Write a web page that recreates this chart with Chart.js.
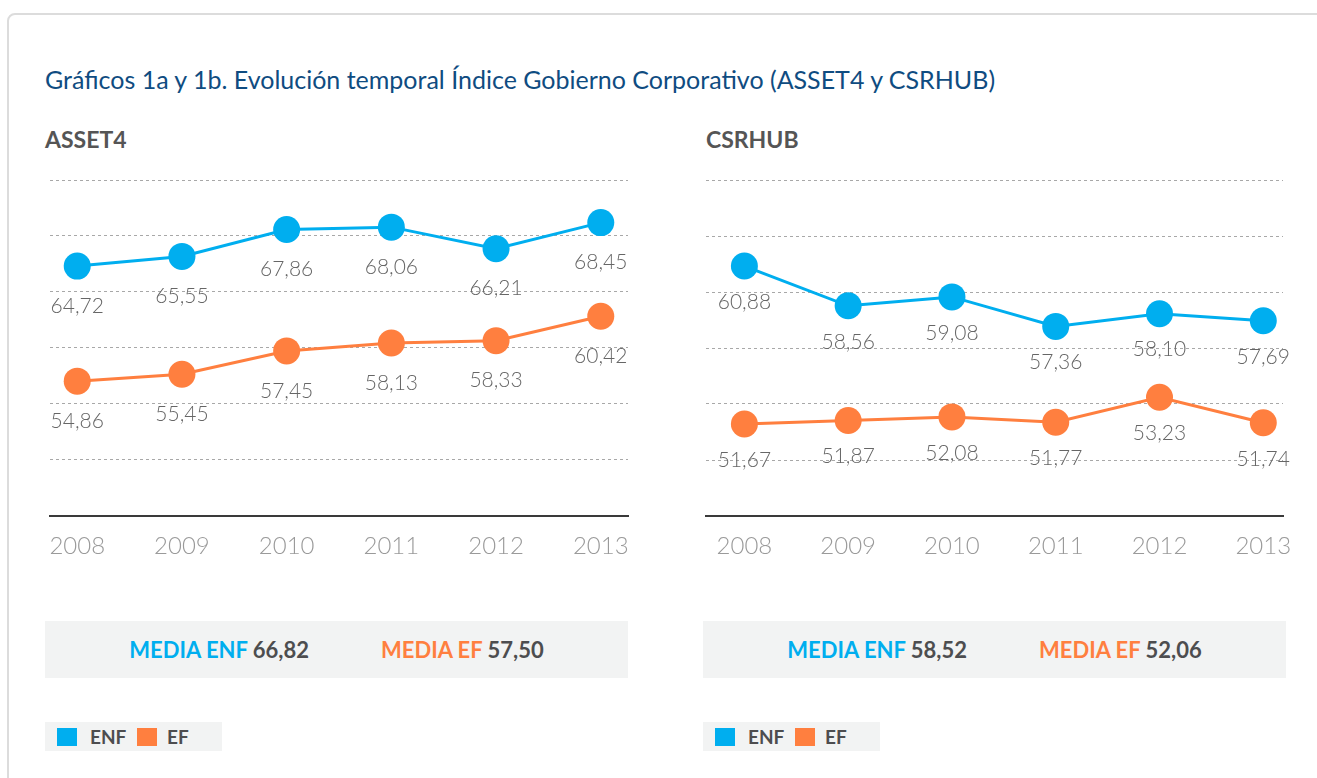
<!DOCTYPE html>
<html>
<head>
<meta charset="utf-8">
<script src="https://cdn.jsdelivr.net/npm/chart.js@4.4.0/dist/chart.umd.min.js"></script>
<style>
  html, body { margin: 0; padding: 0; background: #fff; overflow: hidden; }
  body { width: 1317px; height: 778px; position: relative; font-family: Lato, "Open Sans", sans-serif; }
  .card { position: absolute; left: 7px; top: 13px; width: 1340px; height: 800px; border: 2px solid #dcdcdc; border-radius: 8px; box-sizing: border-box; }
  .title { position: absolute; left: 45px; top: 64px; font-size: 25px; color: #0f4c81; white-space: nowrap; }
  .head { position: absolute; top: 125px; font-size: 23px; font-weight: 700; color: #555; }
  .wrap { position: absolute; top: 170px; width: 590px; height: 406px; }
  .summary { position: absolute; top: 621px; height: 57px; background: #f2f3f3; display: flex; align-items: center; justify-content: center; font-size: 22px; font-weight: 700; color: #4d4d4f; }
  .summary .gap { width: 72px; }
  .legend { position: absolute; top: 722px; width: 177px; height: 29px; background: #f2f3f3; font-size: 19px; font-weight: 700; color: #4d4d4f; }
  .legend span.sw { position: absolute; top: 6px; width: 20px; height: 18px; }
  .legend span.tx { position: absolute; top: 3px; }
</style>
</head>
<body>
<div class="card"></div>
<div class="title">Gráficos 1a y 1b. Evolución temporal Índice Gobierno Corporativo (ASSET4 y CSRHUB)</div>

<div class="head" style="left:45px">ASSET4</div>
<div class="head" style="left:706px">CSRHUB</div>

<div class="wrap" style="left:45px"><canvas id="chartAsset4"></canvas></div>
<div class="wrap" style="left:703px"><canvas id="chartCsrhub"></canvas></div>

<div class="summary" style="left:45px;width:583px">
  <span style="color:#00aeef">MEDIA ENF&nbsp;</span><span>66,82</span><span class="gap"></span>
  <span style="color:#ff7f3f">MEDIA EF&nbsp;</span><span>57,50</span>
</div>
<div class="summary" style="left:703px;width:583px">
  <span style="color:#00aeef">MEDIA ENF&nbsp;</span><span>58,52</span><span class="gap"></span>
  <span style="color:#ff7f3f">MEDIA EF&nbsp;</span><span>52,06</span>
</div>

<div class="legend" style="left:45px">
  <span class="sw" style="left:12px;background:#00aeef"></span><span class="tx" style="left:45px">ENF</span>
  <span class="sw" style="left:92px;background:#ff7f3f"></span><span class="tx" style="left:122px">EF</span>
</div>
<div class="legend" style="left:703px">
  <span class="sw" style="left:12px;background:#00aeef"></span><span class="tx" style="left:45px">ENF</span>
  <span class="sw" style="left:92px;background:#ff7f3f"></span><span class="tx" style="left:122px">EF</span>
</div>

<script>
// years on the x axis
var years = ['2008', '2009', '2010', '2011', '2012', '2013'];

// ASSET4 series
var asset4Enf = [64.72, 65.55, 67.86, 68.06, 66.21, 68.45];
var asset4Ef = [54.86, 55.45, 57.45, 58.13, 58.33, 60.42];

// CSRHUB series
var csrhubEnf = [60.88, 58.56, 59.08, 57.36, 58.10, 57.69];
var csrhubEf = [51.67, 51.87, 52.08, 51.77, 53.23, 51.74];

var BLUE = '#00aeef';
var ORANGE = '#ff7f3f';

function toPoints(values) {
    return values.map(function(v, i) { return { x: i, y: v }; });
}

function fmt(v) {
    return v.toFixed(2).replace('.', ',');
}

function noPadding(scale) {
    scale.paddingLeft = 0;
    scale.paddingRight = 0;
    scale.paddingTop = 0;
    scale.paddingBottom = 0;
}

// value labels under each point
var valueLabels = {
    id: 'valueLabels',
    afterDatasetsDraw: function(chart, args, opts) {
        var ctx = chart.ctx;
        ctx.save();
        ctx.font = '300 21px Lato, "Open Sans", sans-serif';
        ctx.fillStyle = '#666';
        ctx.textAlign = 'center';
        ctx.textBaseline = 'middle';
        chart.data.datasets.forEach(function(ds, di) {
            chart.getDatasetMeta(di).data.forEach(function(pt, i) {
                ctx.fillText(fmt(ds.data[i].y), pt.x, pt.y + opts.offset);
            });
        });
        ctx.restore();
    }
};

function makeChart(id, enf, ef, yMin, yMax, xMin, xMax, padLeft, padRight, labelOffset) {
    var ds = function(label, values, color) {
        return {
            label: label,
            data: toPoints(values),
            borderColor: color,
            backgroundColor: color,
            borderWidth: 3,
            pointRadius: 13.5,
            pointHoverRadius: 13.5,
            pointBorderWidth: 0,
            tension: 0
        };
    };
    return new Chart(document.getElementById(id), {
        type: 'line',
        data: { datasets: [ds('ENF', enf, BLUE), ds('EF', ef, ORANGE)] },
        plugins: [valueLabels],
        options: {
            responsive: true,
            maintainAspectRatio: false,
            animation: false,
            events: [],
            layout: { autoPadding: false, padding: { left: padLeft, right: padRight, top: 10, bottom: 0 } },
            plugins: {
                legend: { display: false },
                tooltip: { enabled: false },
                valueLabels: { offset: labelOffset }
            },
            scales: {
                x: {
                    type: 'linear',
                    min: xMin,
                    max: xMax,
                    afterBuildTicks: function(scale) {
                        scale.ticks = years.map(function(y, i) { return { value: i }; });
                    },
                    afterFit: function(scale) { scale.height = 60; noPadding(scale); },
                    grid: { display: false, drawTicks: false },
                    border: { display: true, color: '#3a3a3a', width: 2 },
                    ticks: {
                        padding: 16,
                        color: '#9a9a9a',
                        font: { family: 'Lato, "Open Sans", sans-serif', size: 24, weight: '300' },
                        callback: function(v) { return years[v]; },
                        maxRotation: 0,
                        autoSkip: false
                    }
                },
                y: {
                    min: yMin,
                    max: yMax,
                    afterFit: function(scale) { scale.width = 0; noPadding(scale); },
                    ticks: { display: false, count: 7 },
                    grid: {
                        drawTicks: false,
                        color: function(c) { return c.index === 0 ? 'rgba(0,0,0,0)' : '#a8a8a8'; },
                        lineWidth: 1
                    },
                    border: { display: false, dash: [3, 3] }
                }
            }
        }
    });
}

makeChart('chartAsset4', asset4Enf, asset4Ef, 43.3, 72.1, -0.26, 5.26, 5, 7, 40);
makeChart('chartCsrhub', csrhubEnf, csrhubEf, 46.3, 65.9, -0.37, 5.19, 3, 10, 36);
</script>
</body>
</html>
